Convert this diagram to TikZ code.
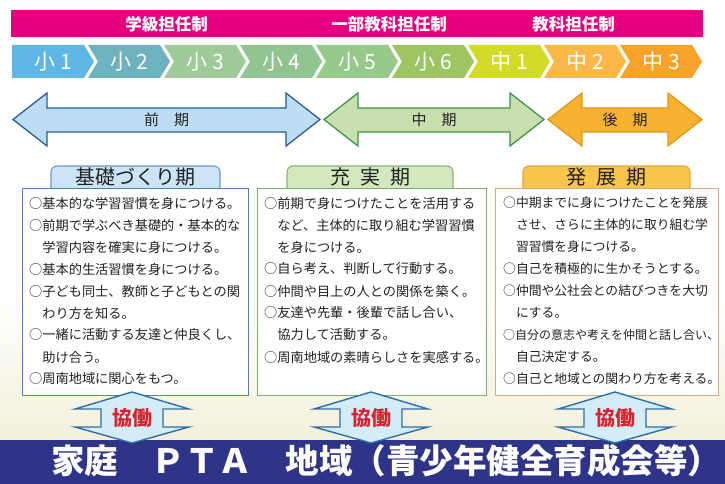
\documentclass[tikz,border=0pt]{standalone}
\usepackage{fontspec}
\setmainfont{Noto Sans CJK JP}
\definecolor{barmag}{HTML}{E4007F}
\definecolor{cA}{HTML}{5FB7E8}
\definecolor{cB}{HTML}{6EB2C0}
\definecolor{cC}{HTML}{9FCB98}
\definecolor{cD}{HTML}{90C592}
\definecolor{cE}{HTML}{96C98A}
\definecolor{cF}{HTML}{9DC663}
\definecolor{cG}{HTML}{D3DA27}
\definecolor{cH}{HTML}{FBB848}
\definecolor{cI}{HTML}{F7A228}
\definecolor{arrAf}{HTML}{BDDDF4}
\definecolor{arrAd}{HTML}{2B5C94}
\definecolor{arrBf}{HTML}{C9E0AE}
\definecolor{arrBd}{HTML}{3A9648}
\definecolor{arrCf}{HTML}{F8B230}
\definecolor{arrCd}{HTML}{E3981C}
\definecolor{tabAf}{HTML}{CBE4F6}
\definecolor{tabAd}{HTML}{6A9BC8}
\definecolor{boxAd}{HTML}{4B80B8}
\definecolor{tabBf}{HTML}{D3E8BE}
\definecolor{tabBd}{HTML}{86B46F}
\definecolor{boxBd}{HTML}{7DAE6B}
\definecolor{tabCf}{HTML}{F8C44A}
\definecolor{tabCd}{HTML}{E4A43A}
\definecolor{boxCd}{HTML}{E2A67A}
\definecolor{kyof}{HTML}{D4EBF8}
\definecolor{kyod}{HTML}{2E6FAA}
\definecolor{kyot}{HTML}{D8242C}
\definecolor{navy}{HTML}{2E3488}
\definecolor{bgcream}{HTML}{F2F0DA}
\definecolor{darktext}{HTML}{222222}
\newcommand\hdbl[3]{%
  \draw[#3] (#1,119.5) -- ({#1+34},93) -- ({#1+34},108) -- ({#2-34},108) -- ({#2-34},93)
    -- (#2,119.5) -- ({#2-34},146) -- ({#2-34},132) -- ({#1+34},132) -- ({#1+34},146) -- cycle;}
\newcommand\vdbl[1]{%
  \draw[kyoarrow] (#1,392) -- ({#1+57},409) -- ({#1+31},409) -- ({#1+31},427) -- ({#1+57},427)
    -- (#1,443) -- ({#1-57},427) -- ({#1-31},427) -- ({#1-31},409) -- ({#1-57},409) -- cycle;}
\begin{document}
\begin{tikzpicture}[x=1pt,y=-1pt,
  bartext/.style={text=white,font=\bfseries\fontsize{16.5}{18}\selectfont,inner sep=0},
  chevtext/.style={text=white,font=\fontsize{21}{23}\selectfont,inner sep=0},
  arrtext/.style={text=darktext,font=\fontsize{15}{17}\selectfont,inner sep=0},
  tabtext/.style={text=darktext,font=\fontsize{20}{22}\selectfont,inner sep=0},
  bodytext/.style={text=darktext,font=\fontsize{13.2}{15}\selectfont,inner sep=0,anchor=west},
  bodytextC/.style={text=darktext,font=\fontsize{12.8}{15}\selectfont,inner sep=0,anchor=west},
  kyotext/.style={text=kyot,font=\bfseries\fontsize{20}{22}\selectfont,inner sep=0},
  bandtext/.style={text=white,font=\bfseries\fontsize{33.5}{36}\selectfont,inner sep=0,anchor=west},
  kyoarrow/.style={fill=kyof,draw=kyod,line width=1.4pt,line join=miter},
  panel/.style={fill=white,line width=1.1pt,anchor=north west,inner sep=0},
]
\useasboundingbox (0,0) rectangle (725,484);
\fill[white] (0,0) rectangle (725,484);
\shade[top color=white,bottom color=bgcream] (0,300) rectangle (725,440);

% magenta bar
\node[fill=barmag,minimum width=692pt,minimum height=27pt,anchor=north west,inner sep=0] (bar) at (11,10) {};
\node[bartext] (sys1) at (166.5,24) {学級担任制};
\node[bartext] (sys2) at (389,24) {一部教科担任制};
\node[bartext] (sys3) at (573.5,24) {教科担任制};

% chevrons
\foreach \col/\lab [count=\i from 0] in {cA/小 1,cB/小 2,cC/小 3,cD/小 4,cE/小 5,cF/小 6,cG/中 1,cH/中 2,cI/中 3}{
  \pgfmathsetmacro\xx{12+76*\i}
  \ifnum\i=0
    \fill[\col] (\xx,45) -- ++(72,0) -- ++(10,16.5) -- ++(-10,16.5) -- ++(-72,0) -- cycle;
  \else
    \fill[\col] (\xx,45) -- ++(72,0) -- ++(10,16.5) -- ++(-10,16.5) -- ++(-72,0) -- ++(10,-16.5) -- cycle;
  \fi
  \node[chevtext] (ch\i) at ({\xx+41},61.5) {\lab};
}

% period arrows
\hdbl{13}{320}{fill=arrAf,draw=arrAd,line width=1.3pt}
\hdbl{324}{544}{fill=arrBf,draw=arrBd,line width=1.3pt}
\hdbl{548}{702}{fill=arrCf,draw=arrCd,line width=1.3pt}
\node[arrtext] (pA) at (166.5,119.5) {前　期};
\node[arrtext] (pB) at (434,119.5) {中　期};
\node[arrtext] (pC) at (625,119.5) {後　期};

% tabs
\draw[fill=tabAf,draw=tabAd,line width=1.1pt,rounded corners=6pt] (51,188) -- (51,166) -- (220,166) -- (220,188);
\draw[fill=tabBf,draw=tabBd,line width=1.1pt,rounded corners=6pt] (287,188) -- (287,166) -- (453,166) -- (453,188);
\draw[fill=tabCf,draw=tabCd,line width=1.1pt,rounded corners=6pt] (523,188) -- (523,166) -- (690,166) -- (690,188);
\node[tabtext] (tA) at (135.5,177) {基礎づくり期};
\node[tabtext] (tB) at (370,177) {充\hspace{10pt}実\hspace{10pt}期};
\node[tabtext] (tC) at (606.5,177) {発\hspace{10pt}展\hspace{10pt}期};

% boxes
\node[panel,draw=boxAd,minimum width=226pt,minimum height=207pt] (boxA) at (22,188) {};
\node[panel,draw=boxBd,minimum width=229pt,minimum height=207pt] (boxB) at (257,188) {};
\node[panel,draw=boxCd,minimum width=223pt,minimum height=207pt] (boxC) at (495,188) {};

\foreach \t [count=\i from 0] in {%
  {○基本的な学習習慣を身につける。},
  {○前期で学ぶべき基礎的・基本的な},
  {\hspace*{1em}学習内容を確実に身につける。},
  {○基本的生活習慣を身につける。},
  {○子ども同士、教師と子どもとの関},
  {\hspace*{1em}わり方を知る。},
  {○一緒に活動する友達と仲良くし、},
  {\hspace*{1em}助け合う。},
  {○周南地域に関心をもつ。}}{
  \node[bodytext] (la\i) at (29,{203+22*\i}) {\t};
}
\foreach \t [count=\i from 0] in {%
  {○前期で身につけたことを活用する},
  {\hspace*{1em}など、主体的に取り組む学習習慣},
  {\hspace*{1em}を身につける。},
  {○自ら考え、判断して行動する。},
  {○仲間や目上の人との関係を築く。},
  {○友達や先輩・後輩で話し合い、},
  {\hspace*{1em}協力して活動する。},
  {○周南地域の素晴らしさを実感する。}}{
  \node[bodytext] (lb\i) at (264,{203+22*\i}) {\t};
}
\foreach \t [count=\i from 0] in {%
  {○中期までに身につけたことを発展},
  {\hspace*{1em}させ、さらに主体的に取り組む学},
  {\hspace*{1em}習習慣を身につける。},
  {○自己を積極的に生かそうとする。},
  {○仲間や公社会との結びつきを大切},
  {\hspace*{1em}にする。},
  {\fontsize{12}{15}\selectfont ○自分の意志や考えを仲間と話し合い、},
  {\hspace*{1em}自己決定する。},
  {○自己と地域との関わり方を考える。}}{
  \node[bodytextC] (lc\i) at (503,{203+22*\i}) {\t};
}

% band
\node[fill=navy,minimum width=725pt,minimum height=44pt,anchor=north west,inner sep=0] (band) at (0,440) {};
\node[bandtext] (bt) at (51,461) {家庭　ＰＴＡ　地域（青少年健全育成会等）\kern-.5em};

% cooperation arrows
\vdbl{132}
\vdbl{371}
\vdbl{615}
\node[kyotext] (k1) at (132,418) {協働};
\node[kyotext] (k2) at (371,418) {協働};
\node[kyotext] (k3) at (615,418) {協働};
\end{tikzpicture}
\end{document}
